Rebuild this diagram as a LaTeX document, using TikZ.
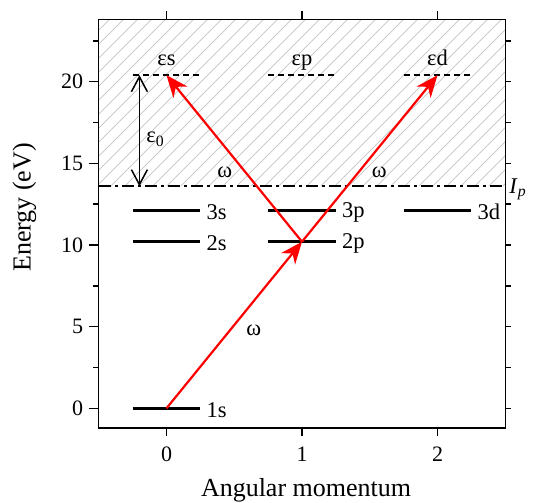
\documentclass[tikz,border=0pt]{standalone}
\usepackage{fontspec}
\setmainfont{Liberation Serif}
\usetikzlibrary{arrows.meta}
\definecolor{ink}{HTML}{000000}
\definecolor{photon}{HTML}{FF0000}
\definecolor{hatch}{HTML}{C4C4C4}

\begin{document}
\begin{tikzpicture}[x=135.5pt,y=16.33pt,
  every node/.style={text=ink,inner sep=0pt},
  frame/.style={draw=ink,line width=1.4pt},
  level/.style={draw=ink,line width=2.6pt},
  continuum/.style={level,dash pattern=on 6pt off 4pt},
  threshold/.style={draw=ink,line width=2.2pt,dash pattern=on 12pt off 4pt on 3pt off 4pt},
  absorb/.style={-{Stealth[length=22pt,width=18pt,inset=7pt]},draw=photon,line width=2.2pt},
  gap/.style={{Straight Barb[length=15pt,width=16pt]}-{Straight Barb[length=15pt,width=16pt]},
    draw=ink,line width=1.5pt},
  hatchline/.style={draw=hatch,line width=.7pt},
  lab/.style={font=\fontsize{22.5}{26}\selectfont},
  ticklab/.style={font=\fontsize{22}{25}\selectfont},
  axislab/.style={font=\fontsize{26}{30}\selectfont}]
\useasboundingbox (-1.2288,-5.799) rectangle (2.7712,25.003);

% Continuum above the ionisation threshold.
\begin{scope}
  \clip (-0.5,13.6) rectangle (2.5,23.8);
  \foreach \k in {0,...,42}
    \draw[hatchline] (-0.5,13.6) ++(\k*14pt-170pt,0) -- ++(180pt,180pt);
\end{scope}
\draw[threshold] (-0.5,13.6) -- (2.5,13.6);
\node[lab,anchor=base west,xshift=4pt] (ip) at (2.5,13.18)
  {\textit{I}\textsubscript{\textit{p}}};

% Bound levels
\foreach \l/\e/\name in {0/0/1s,0/10.2/2s,0/12.1/3s,1/10.2/2p,1/12.1/3p,2/12.1/3d}
  \draw[level] (\l-0.25,\e) -- (\l+0.25,\e)
    node[lab,anchor=west,xshift=5pt,yshift=-1.5pt] (\name) {\name};

% Continuum levels
\foreach \l/\name in {0/s,1/p,2/d}{
  \draw[continuum] (\l-0.25,20.4) -- (\l+0.25,20.4);
  \node[lab,anchor=base] (e\name) at (\l,21.0) {ε\name};
}

\coordinate (g1s) at (0,0);
\coordinate (g2p) at (1,10.2);
\coordinate (ges) at (0,20.4);
\coordinate (ged) at (2,20.4);
\coordinate (gaptop) at (-0.2,20.4);
\coordinate (gapbot) at (-0.2,13.6);

\draw[gap] (gaptop) -- (gapbot);
\node[lab,anchor=base west] (eps0) at (-0.15,16.25) {ε\textsubscript{0}};

\draw[absorb] (g1s) -- (g2p);
\draw[absorb] (g2p) -- (ges);
\draw[absorb] (g2p) -- (ged);
\node[lab] (w1) at (0.645,4.8) {ω};
\node[lab] (w2) at (0.43,14.47) {ω};
\node[lab] (w3) at (1.57,14.47) {ω};

% Axes
\draw[frame] (-0.5,-1.2) rectangle (2.5,23.8);
\foreach \e in {0,5,...,20}
  \draw[frame] (-0.5,\e) -- ++(-10pt,0) node[ticklab,anchor=east,xshift=-5pt] {\e};
\foreach \e in {2.5,7.5,...,22.5}
  \draw[frame] (-0.5,\e) -- ++(-6pt,0);
\foreach \e in {0,2.5,...,22.5}
  \draw[frame] (2.5,\e) -- ++(6pt,0);
\foreach \l in {0,1,2}{
  \draw[frame] (\l,-1.2) -- ++(0,-8pt);
  \draw[frame] (\l,23.8) -- ++(0,9pt);
  \node[ticklab,anchor=base] at (\l,-3.23) {\l};
}
\node[axislab,rotate=90] (ylab) at (-1.048,12.3) {Energy (eV)};
\node[axislab,anchor=base] (xlab) at (1.03,-5.43) {Angular momentum};
\end{tikzpicture}
\end{document}
